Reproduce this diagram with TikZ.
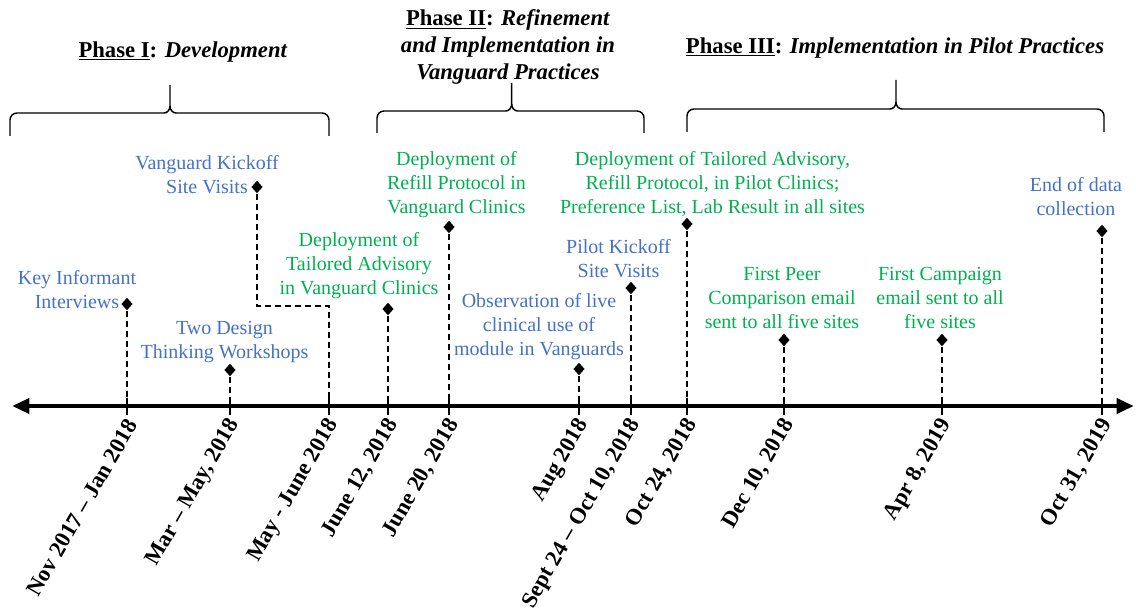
\documentclass[tikz,border=0pt]{standalone}
\usepackage{fontspec}
\setmainfont{Liberation Serif}
\usetikzlibrary{shapes.geometric,arrows.meta}
\definecolor{evblue}{RGB}{68,114,196}
\definecolor{evgreen}{RGB}{0,176,80}
\newcommand\phbrace[6]{% x1 x2 xm yh yb yt
 \draw[bracestyle] (#1,#5) -- (#1,#4+7) to[out=90,in=180] (#1+7,#4) -- (#3-6,#4) to[out=0,in=-90] (#3,#4-7) -- (#3,#6);
 \draw[bracestyle] (#3,#4-7) to[out=-90,in=180] (#3+6,#4) -- (#2-7,#4) to[out=0,in=90] (#2,#4+7) -- (#2,#5);}
\begin{document}
\begin{tikzpicture}[x=0.75pt,y=-0.75pt,
  evtext/.style={align=center,font=\fontsize{15}{18}\selectfont,inner sep=0pt},
  bluetext/.style={evtext,text=evblue},
  greentext/.style={evtext,text=evgreen},
  dia/.style={diamond,fill=black,inner sep=0pt,minimum width=8.5pt,minimum height=9.5pt},
  conn/.style={dash pattern=on 4.5pt off 3pt,line width=1.1pt},
  datelbl/.style={rotate=60,anchor=east,font=\bfseries\fontsize{17}{20}\selectfont,inner sep=0pt},
  tickmark/.style={line width=1.2pt},
  axisline/.style={line width=3.6pt,{Triangle[length=13pt,width=11pt]}-{Triangle[length=13pt,width=11pt]}},
  head/.style={align=center,font=\bfseries\fontsize{17}{20}\selectfont,inner sep=0pt},
  bracestyle/.style={line width=1.1pt}
]
\useasboundingbox (0,0) rectangle (1136,613);

% axis
\coordinate (axL) at (12,406);
\coordinate (axR) at (1134,406);
\draw[axisline] (axL) -- (axR);

% tick coordinates
\coordinate (t1) at (127,406);
\coordinate (t2) at (230,406);
\coordinate (t3) at (329,406);
\coordinate (t4) at (388,406);
\coordinate (t5) at (449,406);
\coordinate (t6) at (579,406);
\coordinate (t7) at (631,406);
\coordinate (t8) at (687,406);
\coordinate (t9) at (784,406);
\coordinate (t10) at (942,406);
\coordinate (t11) at (1102,406);

\foreach \i in {1,...,11}{
  \draw[tickmark] ([yshift=6pt]t\i) -- ([yshift=-7pt]t\i);
}

% date labels
\node[datelbl] (dl1) at (132,421) {Nov 2017 -- Jan 2018};
\node[datelbl] (dl2) at (235,421) {Mar -- May, 2018};
\node[datelbl] (dl3) at (334,421) {May - June 2018};
\node[datelbl] (dl4) at (393,421) {June 12, 2018};
\node[datelbl] (dl5) at (454,421) {June 20, 2018};
\node[datelbl] (dl6) at (584,421) {Aug 2018};
\node[datelbl] (dl7) at (636,421) {Sept 24 -- Oct 10, 2018};
\node[datelbl] (dl8) at (692,421) {Oct 24, 2018};
\node[datelbl] (dl9) at (789,421) {Dec 10, 2018};
\node[datelbl] (dl10) at (947,421) {Apr 8, 2019};
\node[datelbl] (dl11) at (1107,421) {Oct 31, 2019};

% events
\node[dia] (d1) at (127,304) {};
\node[bluetext] (l1) at (77,290) {Key Informant\\Interviews};
\draw[conn] (d1) -- (t1);

\node[dia] (d2) at (230,370) {};
\node[bluetext] (l2) at (224.5,342) {Two Design\\Thinking Workshops};
\draw[conn] (d2) -- (t2);

\node[dia] (d3) at (257,187) {};
\node[bluetext] (l3) at (207,175) {Vanguard Kickoff\\Site Visits};
\coordinate (b3) at (257,306);
\draw[conn] (d3) -- (b3) -- (b3 -| t3) -- (t3);

\node[dia] (d4) at (388,309) {};
\node[greentext] (l4) at (359,266) {Deployment of\\Tailored Advisory\\in Vanguard Clinics};
\draw[conn] (d4) -- (t4);

\node[dia] (d5) at (449,227) {};
\node[greentext] (l5) at (456.5,184.5) {Deployment of\\Refill Protocol in\\Vanguard Clinics};
\draw[conn] (d5) -- (t5);

\node[dia] (d6) at (579,369) {};
\node[bluetext] (l6) at (539,327) {Observation of live\\clinical use of\\module in Vanguards};
\draw[conn] (d6) -- (t6);

\node[dia] (d7) at (631,288) {};
\node[bluetext] (l7) at (618.5,258.7) {Pilot Kickoff\\Site Visits};
\draw[conn] (d7) -- (t7);

\node[dia] (d8) at (687,224) {};
\node[greentext] (l8) at (712.5,183.5) {Deployment of Tailored Advisory,\\Refill Protocol, in Pilot Clinics;\\Preference List, Lab Result in all sites};
\draw[conn] (d8) -- (t8);

\node[dia] (d9) at (784,340) {};
\node[greentext] (l9) at (782,297.5) {First Peer\\Comparison email\\sent to all five sites};
\draw[conn] (d9) -- (t9);

\node[dia] (d10) at (942,340) {};
\node[greentext] (l10) at (940,297.5) {First Campaign\\email sent to all\\five sites};
\draw[conn] (d10) -- (t10);

\node[dia] (d11) at (1102,231) {};
\node[bluetext] (l11) at (1076,197) {End of data\\collection};
\draw[conn] (d11) -- (t11);

% phase headings
\node[head] (p1) at (183,52) {\underline{Phase I}: \textit{Development}};
\node[head] (p2) at (508,47) {\underline{Phase II}: \textit{Refinement}\\\textit{and Implementation in}\\\textit{Vanguard Practices}};
\node[head] (p3) at (895,48) {\underline{Phase III}: \textit{Implementation in Pilot Practices}};

% braces
\phbrace{10}{329}{170}{113}{136}{85}
\phbrace{377}{644}{511.7}{111}{133}{83}
\phbrace{687}{1104}{896}{109}{132}{80}
\end{tikzpicture}
\end{document}
